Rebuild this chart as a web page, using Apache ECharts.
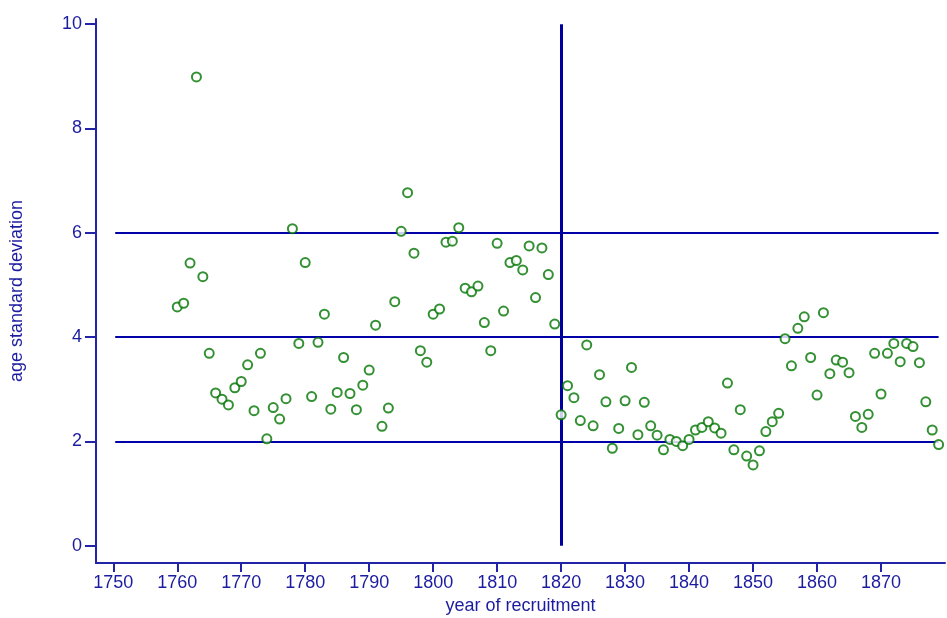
<!DOCTYPE html>
<html>
<head>
<meta charset="utf-8">
<script src="https://cdn.jsdelivr.net/npm/echarts@6/dist/echarts.min.js"></script>
<style>
  html, body { margin: 0; padding: 0; background: #fff; }
  #chart { width: 947px; height: 618px; }
</style>
</head>
<body>
<div id="chart"></div>
<script>
// data
var years = [
  1760,1761,1762,1763,1764,1765,1766,1767,1768,1769,
  1770,1771,1772,1773,1774,1775,1776,1777,1778,1779,
  1780,1781,1782,1783,1784,1785,1786,1787,1788,1789,
  1790,1791,1792,1793,1794,1795,1796,1797,1798,1799,
  1800,1801,1802,1803,1804,1805,1806,1807,1808,1809,
  1810,1811,1812,1813,1814,1815,1816,1817,1818,1819,
  1820,1821,1822,1823,1824,1825,1826,1827,1828,1829,
  1830,1831,1832,1833,1834,1835,1836,1837,1838,1839,
  1840,1841,1842,1843,1844,1845,1846,1847,1848,1849,
  1850,1851,1852,1853,1854,1855,1856,1857,1858,1859,
  1860,1861,1862,1863,1864,1865,1866,1867,1868,1869,
  1870,1871,1872,1873,1874,1875,1876,1877,1878,1879
];
var ageSd = [
  4.58,4.65,5.42,8.99,5.16,3.69,2.93,2.81,2.70,3.03,
  3.15,3.47,2.59,3.69,2.05,2.65,2.43,2.82,6.08,3.88,
  5.43,2.86,3.90,4.44,2.62,2.94,3.61,2.92,2.61,3.08,
  3.37,4.23,2.29,2.64,4.68,6.03,6.77,5.61,3.74,3.52,
  4.44,4.54,5.82,5.84,6.10,4.94,4.87,4.98,4.28,3.74,
  5.80,4.50,5.43,5.47,5.29,5.75,4.76,5.71,5.20,4.25,
  2.51,3.07,2.84,2.40,3.85,2.30,3.28,2.76,1.87,2.25,
  2.78,3.42,2.13,2.75,2.30,2.12,1.84,2.04,2.00,1.92,
  2.04,2.22,2.27,2.38,2.26,2.16,3.12,1.84,2.61,1.72,
  1.55,1.82,2.19,2.38,2.54,3.97,3.45,4.17,4.39,3.61,
  2.89,4.47,3.30,3.56,3.52,3.32,2.48,2.27,2.52,3.69,
  2.91,3.69,3.88,3.53,3.88,3.82,3.51,2.76,2.22,1.94
];
var xTicks = [1750,1760,1770,1780,1790,1800,1810,1820,1830,1840,1850,1860,1870];
var yTicks = [0,2,4,6,8,10];
var refLevels = [2,4,6];
var splitYear = 1820;

function initChart(){
  var myChart = echarts.init(document.getElementById('chart'));

  var points = years.map(function(y, i){ return [y, ageSd[i]]; });

  var hLines = refLevels.map(function(v){
    return [{ coord: [1750.3, v] }, { coord: [1879, v] }];
  });

  var axisBlue = '#2323a8';
  var textBlue = '#1c1ca0';

  var option = {
    animation: false,
    grid: {
      left: 96,
      right: 2,
      top: 19,
      bottom: 55,
      outerBoundsMode: 'none'
    },
    xAxis: {
      type: 'value',
      min: 1747.3,
      max: 1880,
      name: 'year of recruitment',
      nameLocation: 'middle',
      nameGap: 34,
      nameTextStyle: {
        color: textBlue,
        fontFamily: 'Liberation Sans',
        fontSize: 18
      },
      axisLine: { onZero: false, lineStyle: { color: axisBlue, width: 2 } },
      axisTick: {
        show: true,
        inside: false,
        customValues: xTicks,
        length: 9,
        lineStyle: { color: axisBlue, width: 2 }
      },
      axisLabel: {
        customValues: xTicks,
        margin: 11,
        color: textBlue,
        fontFamily: 'Liberation Sans',
        fontSize: 18,
        formatter: function(v){ return String(v); }
      },
      splitLine: { show: false }
    },
    yAxis: {
      type: 'value',
      min: -0.33,
      max: 10.1,
      name: 'age standard deviation',
      nameLocation: 'middle',
      nameGap: 70,
      nameTextStyle: {
        color: textBlue,
        fontFamily: 'Liberation Sans',
        fontSize: 18
      },
      axisLine: { show: true, onZero: false, lineStyle: { color: axisBlue, width: 2 } },
      axisTick: {
        show: true,
        inside: false,
        customValues: yTicks,
        length: 11,
        lineStyle: { color: axisBlue, width: 2 }
      },
      axisLabel: {
        customValues: yTicks,
        margin: 14,
        color: textBlue,
        fontFamily: 'Liberation Sans',
        fontSize: 18
      },
      splitLine: { show: false }
    },
    series: [
      {
        // reference lines only
        type: 'line',
        data: [],
        markLine: {
          silent: true,
          symbol: 'none',
          label: { show: false },
          lineStyle: { color: '#0000a8', width: 2, type: 'solid' },
          data: hLines.concat([
            [
              { coord: [splitYear, 0], lineStyle: { width: 3, color: '#0000a0' } },
              { coord: [splitYear, 10] }
            ]
          ])
        }
      },
      {
        type: 'scatter',
        data: points,
        symbol: 'emptyCircle',
        symbolSize: 9,
        itemStyle: {
          color: '#007400',
          borderWidth: 3
        },
        z: 5
      }
    ]
  };

  myChart.setOption(option);
  return myChart;
}
initChart();
</script>
</body>
</html>
